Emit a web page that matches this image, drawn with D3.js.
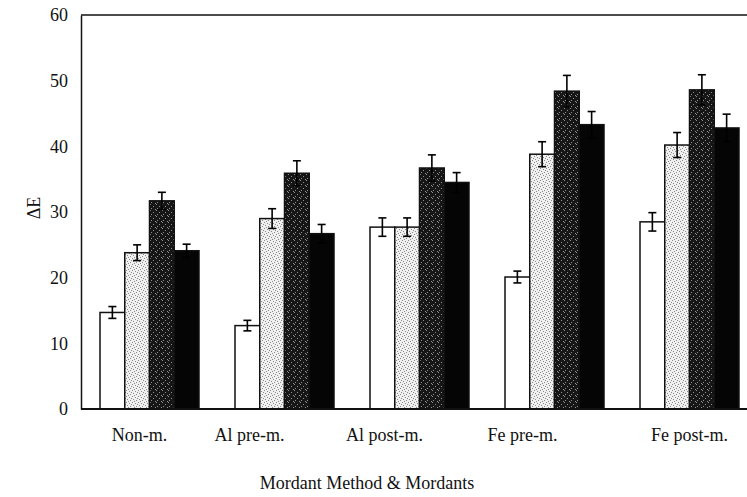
<!DOCTYPE html>
<html>
<head>
<meta charset="utf-8">
<script src="https://cdn.jsdelivr.net/npm/d3@7"></script>
<style>
  html, body { margin: 0; padding: 0; background: #fff; }
  svg { display: block; }
  text { font-family: "Liberation Serif", "Times New Roman", serif; fill: #111; }
</style>
</head>
<body>
<svg id="chart" width="747" height="497"></svg>
<script>
const categories = ["Non-m.", "Al pre-m.", "Al post-m.", "Fe pre-m.", "Fe post-m."];
const seriesNames = ["S1", "S2", "S3", "S4"];
const valuesS1 = [14.7, 12.7, 27.7, 20.1, 28.5];
const valuesS2 = [23.8, 29.0, 27.7, 38.8, 40.2];
const valuesS3 = [31.7, 35.9, 36.7, 48.4, 48.6];
const valuesS4 = [24.1, 26.7, 34.5, 43.3, 42.8];
const errorsS1 = [0.9, 0.8, 1.4, 0.9, 1.4];
const errorsS2 = [1.2, 1.5, 1.4, 1.9, 1.9];
const errorsS3 = [1.3, 1.9, 2.0, 2.4, 2.3];
const errorsS4 = [1.0, 1.4, 1.5, 2.0, 2.1];
const yTicks = [0, 10, 20, 30, 40, 50, 60];

const allValues = [valuesS1, valuesS2, valuesS3, valuesS4];
const allErrors = [errorsS1, errorsS2, errorsS3, errorsS4];
const rows = [];
categories.forEach((c, i) => {
  seriesNames.forEach((s, j) => {
    rows.push({ cat: c, series: s, idx: j, value: allValues[j][i], err: allErrors[j][i] });
  });
});

const svg = d3.select("#chart");
const mLeft = 81, mTop = 15, mBottom = 409;

// patterns
const defs = svg.append("defs");
const pLight = defs.append("pattern").attr("id", "pLight").attr("patternUnits", "userSpaceOnUse")
  .attr("width", 6).attr("height", 6);
pLight.append("rect").attr("width", 6).attr("height", 6).attr("fill", "#f0f0f0");
[[0,0],[3,1],[1,3],[4,4],[2,5],[5,2]].forEach(([x,y]) =>
  pLight.append("rect").attr("x", x).attr("y", y).attr("width", 1).attr("height", 1).attr("fill", "#8a8a8a"));
const pDark = defs.append("pattern").attr("id", "pDark").attr("patternUnits", "userSpaceOnUse")
  .attr("width", 6).attr("height", 6);
pDark.append("rect").attr("width", 6).attr("height", 6).attr("fill", "#161616");
[[0,0],[3,2],[1,4],[5,5]].forEach(([x,y]) =>
  pDark.append("rect").attr("x", x).attr("y", y).attr("width", 1).attr("height", 1).attr("fill", "#8f8f8f"));

const fills = ["#ffffff", "url(#pLight)", "url(#pDark)", "#050505"];

const x0 = d3.scaleBand().domain(categories).range([mLeft, 758])
  .paddingInner(36 / 135).paddingOuter(19 / 135);
const x1 = d3.scaleBand().domain(seriesNames).range([0, x0.bandwidth()]).padding(0);
const y = d3.scaleLinear().domain([0, 60]).range([mBottom, mTop]);

// frame: top line
svg.append("line").attr("x1", mLeft).attr("x2", 747).attr("y1", y(60)).attr("y2", y(60))
  .attr("stroke", "#111").attr("stroke-width", 1.5);

// bars
const g = svg.append("g");
g.selectAll("rect.bar").data(rows).join("rect")
  .attr("class", "bar")
  .attr("x", d => x0(d.cat) + x1(d.series))
  .attr("width", x1.bandwidth())
  .attr("y", d => y(d.value))
  .attr("height", d => y(0) - y(d.value))
  .attr("fill", d => fills[d.idx])
  .attr("stroke", "#111").attr("stroke-width", 1.5);

// error bars
const capW = 8;
const cx = d => x0(d.cat) + x1(d.series) + x1.bandwidth() / 2;
const eg = g.selectAll("g.err").data(rows).join("g").attr("class", "err")
  .attr("stroke", "#000").attr("stroke-width", 1.6);
eg.append("line")
  .attr("x1", cx).attr("x2", cx)
  .attr("y1", d => y(d.value + d.err)).attr("y2", d => y(d.value - d.err));
eg.append("line")
  .attr("x1", d => cx(d) - capW / 2).attr("x2", d => cx(d) + capW / 2)
  .attr("y1", d => y(d.value + d.err)).attr("y2", d => y(d.value + d.err));
eg.append("line")
  .attr("x1", d => cx(d) - capW / 2).attr("x2", d => cx(d) + capW / 2)
  .attr("y1", d => y(d.value - d.err)).attr("y2", d => y(d.value - d.err));

// y axis
const yAxis = d3.axisLeft(y).tickValues(yTicks).tickSize(0).tickPadding(13);
const ya = svg.append("g").attr("transform", `translate(${mLeft},0)`).call(yAxis);
ya.select(".domain").attr("stroke", "#111").attr("stroke-width", 1.5);
ya.selectAll("text").attr("font-size", 18).attr("font-family", "Liberation Serif").attr("fill", "#111");

// x axis (labels in the reference sit a little left of the group centres)
const labelShift = [-10, -35, -35, -32, 0];
const xAxis = d3.axisBottom(x0).tickSize(0).tickPadding(19);
const xa = svg.append("g").attr("transform", `translate(0,${mBottom})`).call(xAxis);
xa.select(".domain").remove();
svg.append("line").attr("x1", mLeft).attr("x2", 747).attr("y1", mBottom).attr("y2", mBottom)
  .attr("stroke", "#111").attr("stroke-width", 2);
xa.selectAll("text").attr("font-size", 18).attr("font-family", "Liberation Serif").attr("fill", "#111")
  .attr("dx", (d, i) => labelShift[i]);

// titles
svg.append("text").attr("x", 367).attr("y", 489).attr("text-anchor", "middle")
  .attr("font-size", 18).text("Mordant Method & Mordants");
svg.append("text").attr("transform", "translate(40,208) rotate(-90)").attr("text-anchor", "middle")
  .attr("font-size", 18).text("ΔE");
</script>
</body>
</html>
